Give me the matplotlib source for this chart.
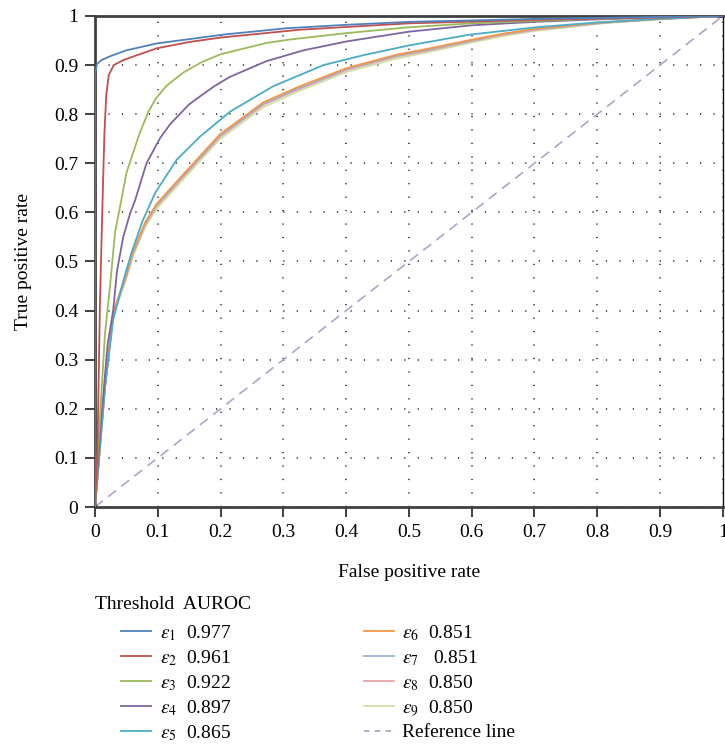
import matplotlib
matplotlib.use('Agg')
import matplotlib.pyplot as plt
from matplotlib.lines import Line2D
from matplotlib.ticker import FuncFormatter

plt.rcParams['font.family'] = ['Liberation Serif', 'DejaVu Serif']
plt.rcParams['mathtext.fontset'] = 'stix'

# ROC curves
fpr_1 = [0, 0, 0.003, 0.01, 0.024, 0.05, 0.098, 0.151, 0.204, 0.305, 0.4, 0.5, 0.7, 0.9, 1]
tpr_1 = [0, 0.88, 0.902, 0.91, 0.918, 0.93, 0.944, 0.953, 0.962, 0.975, 0.982, 0.988, 0.994, 0.998, 1]

fpr_2 = [0, 0.004, 0.008, 0.012, 0.015, 0.018, 0.022, 0.03, 0.045, 0.06, 0.098, 0.15, 0.2, 0.326, 0.5, 0.7, 0.9, 1]
tpr_2 = [0, 0.12, 0.42, 0.62, 0.76, 0.84, 0.88, 0.90, 0.91, 0.917, 0.934, 0.947, 0.956, 0.972, 0.985, 0.992, 0.997, 1]

fpr_3 = [0, 0.003, 0.016, 0.024, 0.032, 0.042, 0.05, 0.07, 0.085, 0.097, 0.114, 0.141, 0.17, 0.2, 0.273, 0.31, 0.4, 0.5, 0.6, 0.7, 0.8, 0.9, 1]
tpr_3 = [0, 0.08, 0.354, 0.45, 0.56, 0.625, 0.68, 0.757, 0.805, 0.832, 0.858, 0.885, 0.906, 0.922, 0.945, 0.952, 0.965, 0.977, 0.985, 0.99, 0.994, 0.997, 1]

fpr_4 = [0, 0.008, 0.02, 0.029, 0.035, 0.045, 0.056, 0.064, 0.082, 0.104, 0.12, 0.135, 0.15, 0.167, 0.19, 0.215, 0.273, 0.332, 0.4, 0.5, 0.6, 0.7, 0.8, 0.9, 1]
tpr_4 = [0, 0.15, 0.33, 0.40, 0.48, 0.55, 0.598, 0.625, 0.70, 0.752, 0.78, 0.80, 0.82, 0.836, 0.857, 0.876, 0.908, 0.93, 0.948, 0.968, 0.981, 0.988, 0.993, 0.997, 1]

fpr_5 = [0, 0.016, 0.029, 0.045, 0.058, 0.075, 0.096, 0.13, 0.167, 0.215, 0.284, 0.364, 0.427, 0.5, 0.597, 0.703, 0.8, 0.9, 1]
tpr_5 = [0, 0.245, 0.381, 0.46, 0.517, 0.58, 0.64, 0.707, 0.754, 0.805, 0.857, 0.9, 0.92, 0.94, 0.962, 0.977, 0.987, 0.994, 1]

fpr_6 = [0, 0.016, 0.029, 0.048, 0.061, 0.08, 0.098, 0.146, 0.199, 0.268, 0.321, 0.401, 0.48, 0.533, 0.597, 0.65, 0.703, 0.809, 0.9, 1]
tpr_6 = [0, 0.247, 0.397, 0.466, 0.522, 0.58, 0.617, 0.685, 0.759, 0.824, 0.854, 0.894, 0.921, 0.934, 0.951, 0.964, 0.974, 0.987, 0.994, 1]

fpr_7 = [0, 0.016, 0.029, 0.048, 0.061, 0.08, 0.098, 0.146, 0.199, 0.268, 0.321, 0.401, 0.48, 0.533, 0.597, 0.65, 0.703, 0.809, 0.9, 1]
tpr_7 = [0, 0.246, 0.395, 0.464, 0.519, 0.577, 0.614, 0.682, 0.756, 0.821, 0.851, 0.892, 0.919, 0.932, 0.949, 0.963, 0.973, 0.986, 0.994, 1]

fpr_8 = [0, 0.016, 0.029, 0.048, 0.061, 0.08, 0.098, 0.146, 0.199, 0.268, 0.321, 0.401, 0.48, 0.533, 0.597, 0.65, 0.703, 0.809, 0.9, 1]
tpr_8 = [0, 0.245, 0.394, 0.462, 0.517, 0.575, 0.612, 0.68, 0.754, 0.819, 0.849, 0.89, 0.917, 0.93, 0.948, 0.962, 0.972, 0.986, 0.994, 1]

fpr_9 = [0, 0.016, 0.029, 0.048, 0.061, 0.08, 0.098, 0.146, 0.199, 0.268, 0.321, 0.401, 0.48, 0.533, 0.597, 0.65, 0.703, 0.809, 0.9, 1]
tpr_9 = [0, 0.243, 0.39, 0.457, 0.512, 0.57, 0.607, 0.675, 0.749, 0.814, 0.845, 0.886, 0.913, 0.927, 0.945, 0.959, 0.970, 0.985, 0.993, 1]

labels = [r'$\varepsilon_1$  0.977', r'$\varepsilon_2$  0.961', r'$\varepsilon_3$  0.922',
          r'$\varepsilon_4$  0.897', r'$\varepsilon_5$  0.865', r'$\varepsilon_6$  0.851',
          r'$\varepsilon_7$   0.851', r'$\varepsilon_8$  0.850', r'$\varepsilon_9$  0.850']
colors = ['#4f81bd', '#c0504d', '#9bbb59', '#8064a2', '#4bacc6',
          '#f79646', '#95b3d7', '#e6a6a4', '#d2e0a8']

curves = [(fpr_1, tpr_1), (fpr_2, tpr_2), (fpr_3, tpr_3), (fpr_4, tpr_4), (fpr_5, tpr_5),
          (fpr_6, tpr_6), (fpr_7, tpr_7), (fpr_8, tpr_8), (fpr_9, tpr_9)]
ref_x = [0, 1]
ref_y = [0, 1]

fig = plt.figure(figsize=(7.25, 7.5), dpi=100)
ax = fig.add_axes([0.131, 0.324, 0.866, 0.6547])

ax.plot(ref_x, ref_y, color='#b3a2c7', lw=1.2, dashes=(6, 4), zorder=2)
for i in range(len(curves) - 1, -1, -1):
    ax.plot(curves[i][0], curves[i][1], color=colors[i], lw=1.3, zorder=3)

ax.set_xlim(0, 1)
ax.set_ylim(0, 1)
ticks = [i / 10 for i in range(11)]
ax.set_xticks(ticks)
ax.set_yticks(ticks)
fmt = FuncFormatter(lambda v, p: '%d' % v if v in (0, 1) else '%.1f' % v)
ax.xaxis.set_major_formatter(fmt)
ax.yaxis.set_major_formatter(fmt)
ax.tick_params(direction='out', length=7, width=1.4, color='#404040', labelsize=14, pad=5)
ax.grid(True, color='#222222', linestyle=(0, (0.8, 8)), linewidth=1.1)

for s in ['left', 'bottom', 'top']:
    ax.spines[s].set_color('#404040')
    ax.spines[s].set_linewidth(2)
ax.spines['right'].set_color('#111111')
ax.spines['right'].set_linewidth(1)

ax.set_xlabel('False positive rate', fontsize=14, labelpad=17)
ax.set_ylabel('True positive rate', fontsize=14, labelpad=16)

fig.text(0.131, 0.194, 'Threshold  AUROC', fontsize=14, va='center', ha='left')
handles = [Line2D([0], [0], color=colors[i], lw=1.3) for i in range(9)]
handles.append(Line2D([0], [0], color='#b3a2c7', lw=1.3, dashes=(3, 3)))
leg_labels = labels + ['Reference line']
fig.legend(handles, leg_labels, ncol=2, loc='upper left', bbox_to_anchor=(0.167, 0.169),
           frameon=False, fontsize=14, handlelength=1.55, handletextpad=0.45,
           columnspacing=6.8, labelspacing=0.27, borderpad=0, borderaxespad=0)

fig.savefig('out.png', dpi=100)
